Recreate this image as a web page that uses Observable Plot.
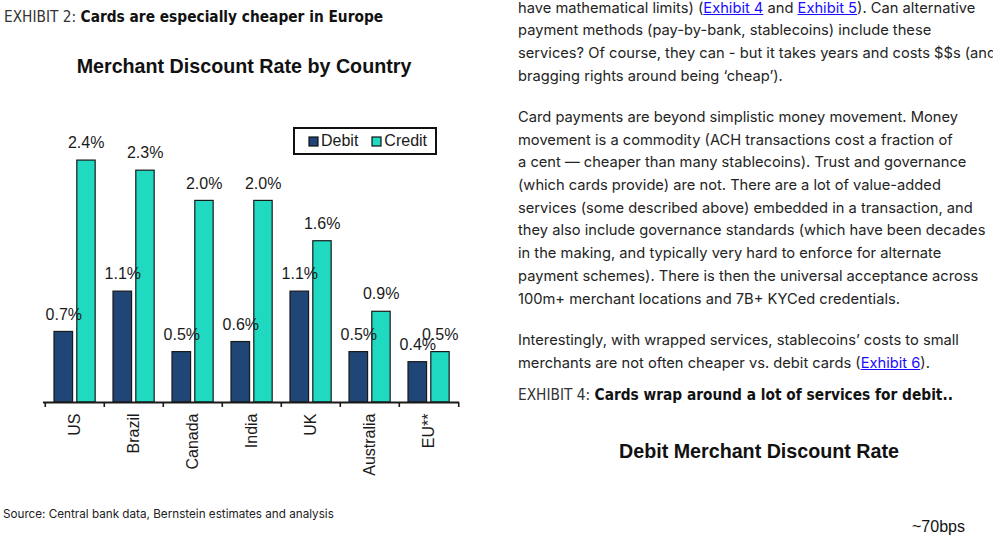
<!DOCTYPE html>
<html>
<head>
<meta charset="utf-8">
<script src="https://cdn.jsdelivr.net/npm/d3@7"></script>
<script src="https://cdn.jsdelivr.net/npm/@observablehq/plot@0.6"></script>
<style>
  html, body { margin: 0; padding: 0; background: #fff; }
  body { width: 993px; height: 540px; position: relative; overflow: hidden; }
  .abs { position: absolute; white-space: nowrap; }
  .exhibit { font-family: "Liberation Sans Narrow", "DejaVu Sans Condensed", "Liberation Sans", sans-serif; font-size: 15.3px; color: #111; }
  .exhibit .lead { font-weight: 300; color: #333; }
  .exhibit b { font-weight: 700; }
  .chart-title { font-family: "Liberation Sans", Arial, sans-serif; font-weight: 700; font-size: 19.7px; color: #111; transform: translateX(-50%); }
  .source { font-family: Inter, "Noto Sans", sans-serif; font-size: 11.7px; color: #222; }
  .body-text { font-family: Inter, "Noto Sans", sans-serif; font-size: 14.7px; line-height: 22.7px; color: #242424; }
  .body-text p { margin: 0 0 18.6px 0; }
  .body-text a { color: #1a0dff; text-decoration: underline; }
  #legend { border: 2px solid #111; box-sizing: border-box; width: 144px; height: 28px; display: flex; align-items: center; padding-left: 14px; }
  #legend > div { flex: 0 0 auto; margin: 0 !important; min-height: 0 !important; flex-wrap: nowrap !important; display: flex !important; white-space: nowrap; }
  #legend .mdr-swatch { margin-right: 14px !important; display: inline-flex; align-items: center; flex: 0 0 auto; }
  #legend .mdr-swatch:last-child { margin-right: 0 !important; }
  #legend .mdr-swatch > svg { margin-right: 3px !important; flex: 0 0 auto; }
  #legend .mdr-swatch > svg rect { stroke: #111; stroke-width: 1.2px; }
</style>
</head>
<body>
<div class="abs exhibit" style="left:4px; top:8px;"><span class="lead">EXHIBIT 2: </span><b>Cards are especially cheaper in Europe</b></div>
<div class="abs chart-title" style="left:244px; top:55px;">Merchant Discount Rate by Country</div>
<div class="abs" id="chart" style="left:0; top:100px;"></div>
<div class="abs" id="legend" style="left:293px; top:127px;"></div>
<div class="abs source" style="left:3px; top:507px;">Source: Central bank data, Bernstein estimates and analysis</div>

<div class="abs body-text" style="left:518px; top:-3.5px;">
  <p>have mathematical limits) (<a href="#">Exhibit 4</a> and <a href="#">Exhibit 5</a>). Can alternative<br>
  payment methods (pay-by-bank, stablecoins) include these<br>
  services? Of course, they can - but it takes years and costs $$s (and<br>
  bragging rights around being ‘cheap’).</p>
  <p>Card payments are beyond simplistic money movement. Money<br>
  movement is a commodity (ACH transactions cost a fraction of<br>
  a cent — cheaper than many stablecoins). Trust and governance<br>
  (which cards provide) are not. There are a lot of value-added<br>
  services (some described above) embedded in a transaction, and<br>
  they also include governance standards (which have been decades<br>
  in the making, and typically very hard to enforce for alternate<br>
  payment schemes). There is then the universal acceptance across<br>
  100m+ merchant locations and 7B+ KYCed credentials.</p>
  <p>Interestingly, with wrapped services, stablecoins’ costs to small<br>
  merchants are not often cheaper vs. debit cards (<a href="#">Exhibit 6</a>).</p>
</div>
<div class="abs exhibit" style="left:518px; top:386px;"><span class="lead">EXHIBIT 4: </span><b>Cards wrap around a lot of services for debit..</b></div>
<div class="abs chart-title" style="left:759px; top:440px;">Debit Merchant Discount Rate</div>
<div class="abs" style="left:912px; top:518px; font-family:'Liberation Sans', Arial, sans-serif; font-size:16px; color:#111;">~70bps</div>

<script>
// Merchant discount rate (% of transaction value) by country
const countries = ["US", "Brazil", "Canada", "India", "UK", "Australia", "EU**"];
const debitRates = [0.7, 1.1, 0.5, 0.6, 1.1, 0.5, 0.4];
const creditRates = [2.4, 2.3, 2.0, 2.0, 1.6, 0.9, 0.5];
const seriesNames = ["Debit", "Credit"];
const seriesColors = ["#1f4677", "#1fd9c1"];

const debitRows = countries.map((country, i) => ({country, value: debitRates[i]}));
const creditRows = countries.map((country, i) => ({country, value: creditRates[i]}));

const W = 480, H = 400, ML = 43, MR = 21;
const band = (W - ML - MR) / countries.length;
const pct = d => d.value.toFixed(1) + "%";
const ink = "#1a1a1a";

const chart = Plot.plot({
  width: W,
  height: H,
  marginLeft: ML,
  marginRight: MR,
  marginTop: 50,
  marginBottom: 98,
  style: {fontFamily: "'Liberation Sans', Arial, sans-serif", fontSize: "16px", color: ink, background: "transparent", overflow: "visible"},
  x: {type: "band", domain: countries, padding: 0, label: null},
  y: {domain: [0, 2.5], axis: null},
  marks: [
    Plot.barY(debitRows, {x: "country", y: "value", fill: seriesColors[0], stroke: ink, strokeWidth: 1.2, insetLeft: 9, insetRight: band - 28}),
    Plot.barY(creditRows, {x: "country", y: "value", fill: seriesColors[1], stroke: ink, strokeWidth: 1.2, insetLeft: 31.8, insetRight: band - 50.6}),
    Plot.text(debitRows, {x: "country", y: "value", text: pct, dx: -11.2, dy: -17.5, fill: ink, fontSize: 16}),
    Plot.text(creditRows, {x: "country", y: "value", text: pct, dx: 11.2, dy: -17.5, fill: ink, fontSize: 16}),
    Plot.ruleY([0], {stroke: ink, strokeWidth: 1.8}),
    // category boundary ticks below the baseline
    Plot.ruleX(countries, {x: d => d, y1: 0, y2: 0, insetBottom: -5, dx: -band / 2, stroke: ink, strokeWidth: 1.6}),
    Plot.ruleX(countries.slice(-1), {x: d => d, y1: 0, y2: 0, insetBottom: -5, dx: band / 2, stroke: ink, strokeWidth: 1.6}),
    Plot.axisX({tickSize: 0, tickPadding: 11, tickRotate: -90, fontSize: 16, fill: ink})
  ]
});
document.getElementById("chart").appendChild(chart);

const legend = Plot.legend({
  color: {type: "ordinal", domain: seriesNames, range: seriesColors},
  legend: "swatches",
  swatchSize: 9,
  className: "mdr",
  style: {fontFamily: "'Liberation Sans', Arial, sans-serif", fontSize: "16px", color: ink}
});
document.getElementById("legend").appendChild(legend);
</script>
</body>
</html>
